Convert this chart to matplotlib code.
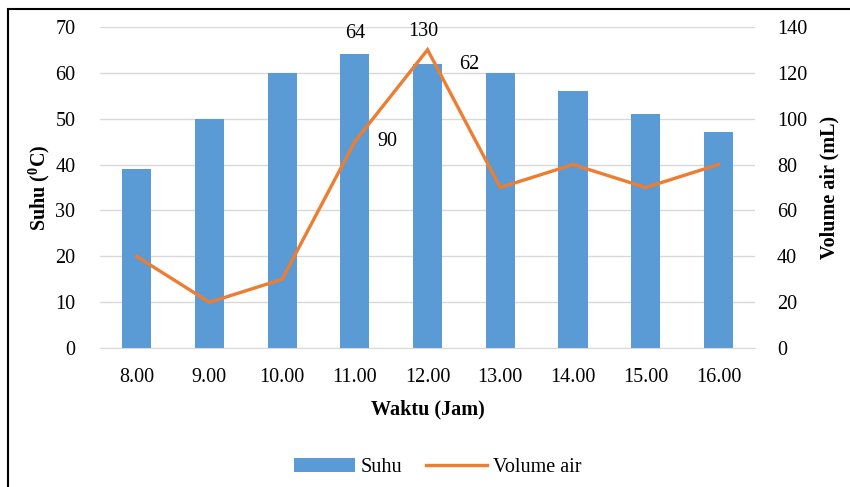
import numpy as np
import matplotlib.pyplot as plt
from matplotlib import rcParams
from matplotlib.patches import Rectangle

rcParams['font.family'] = 'Liberation Serif'
rcParams['font.size'] = 14.5
rcParams['mathtext.fontset'] = 'custom'
rcParams['mathtext.rm'] = 'Liberation Serif'
rcParams['mathtext.bf'] = 'Liberation Serif:bold'

# Data
waktu = ['8.00', '9.00', '10.00', '11.00', '12.00', '13.00', '14.00', '15.00', '16.00']
suhu = [39, 50, 60, 64, 62, 60, 56, 51, 47]
volume_air = [40, 20, 30, 90, 130, 70, 80, 70, 80]

bar_color = '#5B9BD5'
line_color = '#ED7D31'
grid_color = '#D9D9D9'

fig = plt.figure(figsize=(8.5, 4.87), dpi=100)
ax = fig.add_axes([0.118, 0.285, 0.770, 0.66])
ax2 = ax.twinx()

x = np.arange(len(waktu))
bars = ax.bar(x, suhu, width=0.4, color=bar_color, label='Suhu', zorder=2)
line, = ax2.plot(x, volume_air, color=line_color, linewidth=2.4, label='Volume air',
                 solid_joinstyle='miter', zorder=3)

ax.set_ylim(0, 70)
ax.set_yticks(range(0, 71, 10))
ax2.set_ylim(0, 140)
ax2.set_yticks(range(0, 141, 20))
ax.set_xlim(-0.5, len(waktu) - 0.5)
ax.set_xticks(x)
ax.set_xticklabels(waktu)

ax.yaxis.grid(True, color=grid_color, linewidth=1, zorder=0)
ax.set_axisbelow(True)
for a in (ax, ax2):
    for s in a.spines.values():
        s.set_visible(False)
    a.tick_params(length=0)
ax.spines['bottom'].set_visible(True)
ax.spines['bottom'].set_color(grid_color)
ax.tick_params(axis='x', pad=14)
ax.tick_params(axis='y', pad=18)
ax2.tick_params(axis='y', pad=16)

ax.set_zorder(ax2.get_zorder() - 1)
ax.patch.set_visible(False)

ax.set_xlabel('Waktu (Jam)', fontweight='bold', labelpad=9)
ax.set_ylabel(r'Suhu ($^\mathbf{0}$C)', fontweight='bold', labelpad=2)
ax2.set_ylabel('Volume air (mL)', fontweight='bold', labelpad=9)

# data labels
ax.annotate(str(suhu[3]), (x[3], suhu[3]), xytext=(0, 8), textcoords='offset points',
            ha='center', va='bottom')
ax.annotate(str(suhu[4]), (x[4], suhu[4]), xytext=(30, -1), textcoords='offset points',
            ha='center', va='center')
ax2.annotate(str(volume_air[4]), (x[4], volume_air[4]), xytext=(-3, 6), textcoords='offset points',
             ha='center', va='bottom')
ax2.annotate(str(volume_air[3]), (x[3], volume_air[3]), xytext=(16, 0), textcoords='offset points',
             ha='left', va='center')

fig.legend([bars, line], ['Suhu', 'Volume air'], loc='center', bbox_to_anchor=(0.515, 0.04),
           ncol=2, frameon=False, handlelength=3.0, handletextpad=0.3, columnspacing=1.2)

# outer frame
fig.patches.append(Rectangle((0.0095, -0.05), 1.1, 1.032, transform=fig.transFigure,
                             fill=False, edgecolor='black', linewidth=1.5))

fig.savefig('out.png', dpi=100)
